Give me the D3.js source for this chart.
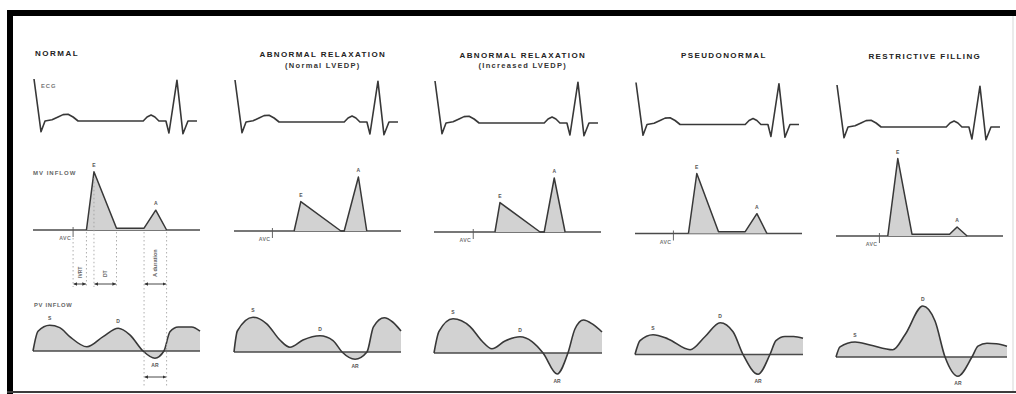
<!DOCTYPE html>
<html>
<head>
<meta charset="utf-8">
<script src="https://cdn.jsdelivr.net/npm/d3@7"></script>
<style>
  html, body { margin: 0; padding: 0; background: #fff; }
  svg { display: block; font-family: "Liberation Sans", Arial, sans-serif; }
</style>
</head>
<body>
<script>
// Diastolic filling patterns: ECG, mitral valve inflow and pulmonary vein inflow
// Time runs 0..100 across one cardiac cycle; velocities in m/s.

const titleLine1 = ["NORMAL", "ABNORMAL RELAXATION", "ABNORMAL RELAXATION", "PSEUDONORMAL", "RESTRICTIVE FILLING"];
const titleLine2 = ["", "(Normal LVEDP)", "(Increased LVEDP)", "", ""];
const rowLabels = ["ECG", "MV INFLOW", "PV INFLOW"];

// ECG trace (shared by every pattern): time and relative amplitude
const ecgTime = [0.6, 4.8, 7.2, 11.4, 15, 18, 21, 24, 27, 66, 68.3, 70.7, 73, 75.4, 79.6, 81.4, 86.2, 89.8, 92.8, 98.2];
const ecgAmp  = [1.05, -0.27, 0, 0.03, 0.1, 0.16, 0.17, 0.1, 0, 0, 0.1, 0.15, 0.1, 0, 0, -0.3, 1.02, -0.32, 0, 0];

// Mitral inflow: aortic valve closure, E and A wave timing and peak velocities
const avcTime  = [24, 23, 23.5, 23, 26];
const eStart   = [32, 36, 36.5, 32, 31];
const ePeakT   = [36.5, 40, 39.5, 37, 37];
const eEnd     = [50, 64, 63.5, 50, 45.5];
const aStart   = [66.5, 66, 66, 66, 68];
const aPeakT   = [73.5, 74.5, 72, 73, 72.5];
const aEnd     = [80, 79.5, 78.5, 79, 78.5];
const eVel     = [0.97, 0.49, 0.49, 1.0, 1.29];
const aVel     = [0.33, 0.9, 0.9, 0.33, 0.15];
const diastasisVel = [0.03, 0, 0, 0.03, 0.03];

// Pulmonary vein inflow: [time, velocity] (S, D forward; AR reversal)
const pvNormal = [[0,0],[3,0.33],[10,0.43],[16,0.39],[22,0.24],[32.3,0.07],[42,0.24],[51,0.38],[58,0.27],[65.9,0],[73,-0.12],[78.4,0],[82,0.32],[87,0.4],[95,0.4],[100,0.33]];
const pvRelaxNormal = [[0,0],[2,0.35],[11.4,0.58],[19.6,0.47],[27.5,0.2],[33.5,0.08],[41.3,0.2],[51.5,0.27],[59.3,0.19],[64.7,0],[72.5,-0.12],[79.6,0],[83.5,0.42],[90,0.57],[95,0.5],[100,0.35]];
const pvRelaxHigh = [[0,0],[3,0.36],[11.4,0.57],[21.6,0.44],[28.7,0.2],[34.7,0.07],[42.5,0.2],[51.5,0.27],[58.7,0.19],[65.3,0],[73.7,-0.35],[80.2,0],[84.4,0.4],[89.5,0.55],[95,0.48],[100.6,0.35]];
const pvPseudo = [[0,0],[3,0.23],[10.8,0.33],[19.8,0.26],[33,0.08],[42,0.3],[51,0.53],[58.7,0.38],[64.7,0],[73.7,-0.33],[80.8,0],[84.4,0.23],[89.8,0.3],[95,0.3],[100.6,0.27]];
const pvRestrictive = [[0,0],[2.4,0.17],[11.4,0.25],[20.4,0.2],[34,0.12],[41.3,0.37],[52,0.85],[59.3,0.6],[65.3,0],[73,-0.32],[81.4,0],[85,0.18],[90.4,0.23],[96,0.22],[102.4,0.18]];
const pvProfiles = [pvNormal, pvRelaxNormal, pvRelaxHigh, pvPseudo, pvRestrictive];

// ---- layout ----
const W = 1016, H = 394;
const colX = [33, 234, 434, 635, 836];
const colShift = [0, 1, 2, 3.5, 6];
const panelW = 167;
const lineColor = "#383838";
const fillColor = "#d2d2d2";
const baseColor = "#4a4a4a";

const svg = d3.select("body").append("svg").attr("width", W).attr("height", H);

// frame
svg.append("rect").attr("x", 7).attr("y", 10).attr("width", W - 7).attr("height", 6).attr("fill", "#000");
svg.append("rect").attr("x", 7).attr("y", 10).attr("width", 6).attr("height", H - 10).attr("fill", "#000");
svg.append("rect").attr("x", 7).attr("y", 391).attr("width", W - 7).attr("height", 2).attr("fill", "#3c3c3c");
svg.append("rect").attr("x", 1012.5).attr("y", 16).attr("width", 1).attr("height", 375).attr("fill", "#d8d8d8");

const tiny = (sel, size, weight, color) => sel
  .attr("font-size", size).attr("font-weight", weight).attr("fill", color);

// row labels (first column only)
tiny(svg.append("text").attr("x", 41).attr("y", 87.5).attr("letter-spacing", 1).text(rowLabels[0]), 5.8, "bold", "#777");
tiny(svg.append("text").attr("x", 33).attr("y", 175).attr("letter-spacing", 1).text(rowLabels[1]), 6, "bold", "#666");
tiny(svg.append("text").attr("x", 34).attr("y", 307).attr("letter-spacing", 0.7).text(rowLabels[2]), 5.8, "bold", "#666");

titleLine1.forEach((t, i) => {
  const s = colShift[i];
  const x = d3.scaleLinear().domain([0, 100]).range([colX[i], colX[i] + panelW]);
  const yE = d3.scaleLinear().domain([0, 1]).range([121 + s, 81 + s]);
  const yM = d3.scaleLinear().domain([0, 1]).range([230 + s, 170 + s]);
  const yP = d3.scaleLinear().domain([0, 1]).range([351 + s, 291 + s]);
  const g = svg.append("g");

  // titles
  if (i === 0) {
    tiny(g.append("text").attr("x", 35).attr("y", 56).attr("letter-spacing", 1.5).text(t), 8, "bold", "#222");
  } else {
    const cx = x(52) + 2;
    tiny(g.append("text").attr("x", cx).attr("y", 57 + s * 0.4).attr("text-anchor", "middle").attr("letter-spacing", 1.4).text(t), 8, "bold", "#222");
    if (titleLine2[i]) {
      tiny(g.append("text").attr("x", cx).attr("y", 68).attr("text-anchor", "middle").attr("letter-spacing", 1.3).text(titleLine2[i]), 7.5, "bold", "#333");
    }
  }

  // ECG
  const ecgPts = ecgTime.map((tt, k) => [tt, ecgAmp[k]]);
  g.append("path")
    .attr("d", d3.line().x(d => x(d[0])).y(d => yE(d[1]))(ecgPts))
    .attr("fill", "none").attr("stroke", lineColor).attr("stroke-width", 1.6)
    .attr("stroke-linejoin", "round");

  // mitral inflow
  g.append("line").attr("x1", x(0)).attr("x2", x(100)).attr("y1", yM(0)).attr("y2", yM(0))
    .attr("stroke", baseColor).attr("stroke-width", 1.4);
  const mv = [[eStart[i], 0], [ePeakT[i], eVel[i]], [eEnd[i], diastasisVel[i]],
              [aStart[i], diastasisVel[i]], [aPeakT[i], aVel[i]], [aEnd[i], 0]];
  g.append("path")
    .attr("d", d3.line().x(d => x(d[0])).y(d => yM(d[1]))(mv))
    .attr("fill", fillColor).attr("stroke", lineColor).attr("stroke-width", 1.5)
    .attr("stroke-linejoin", "round");
  tiny(g.append("text").attr("x", x(ePeakT[i])).attr("y", yM(eVel[i]) - 5).attr("text-anchor", "middle").text("E"), 5, "bold", "#555");
  tiny(g.append("text").attr("x", x(aPeakT[i])).attr("y", yM(aVel[i]) - 5).attr("text-anchor", "middle").text("A"), 5, "bold", "#555");

  // aortic valve closure marker
  g.append("line").attr("x1", x(avcTime[i])).attr("x2", x(avcTime[i]))
    .attr("y1", yM(0) - 3).attr("y2", yM(0) + 7).attr("stroke", "#555").attr("stroke-width", 0.9);
  tiny(g.append("text").attr("x", x(avcTime[i]) - 2).attr("y", yM(0) + 10).attr("text-anchor", "end").attr("letter-spacing", 0.4).text("AVC"), 5.2, "bold", "#777");

  // pulmonary vein inflow
  const pv = pvProfiles[i];
  g.append("path")
    .attr("d", d3.area().x(d => x(d[0])).y0(yP(0)).y1(d => yP(d[1])).curve(d3.curveMonotoneX)(pv))
    .attr("fill", fillColor);
  g.append("line").attr("x1", x(0)).attr("x2", x(pv[pv.length - 1][0])).attr("y1", yP(0)).attr("y2", yP(0))
    .attr("stroke", baseColor).attr("stroke-width", 1.4);
  g.append("path")
    .attr("d", d3.line().x(d => x(d[0])).y(d => yP(d[1])).curve(d3.curveMonotoneX)(pv))
    .attr("fill", "none").attr("stroke", lineColor).attr("stroke-width", 1.6);

  const sPk = d3.greatest(pv.filter(d => d[0] < 25), d => d[1]);
  const dPk = d3.greatest(pv.filter(d => d[0] > 30 && d[0] < 62), d => d[1]);
  const arPk = d3.least(pv, d => d[1]);
  tiny(g.append("text").attr("x", x(sPk[0])).attr("y", yP(sPk[1]) - 5).attr("text-anchor", "middle").text("S"), 5, "bold", "#555");
  tiny(g.append("text").attr("x", x(dPk[0])).attr("y", yP(dPk[1]) - 5).attr("text-anchor", "middle").text("D"), 5, "bold", "#555");
  tiny(g.append("text").attr("x", x(arPk[0])).attr("y", yP(arPk[1]) + 9).attr("text-anchor", "middle").text("AR"), 5, "bold", "#555");

  // interval measurements on the normal pattern
  if (i === 0) {
    const dots = (tt, y1, y2) => g.append("line").attr("x1", x(tt)).attr("x2", x(tt))
      .attr("y1", y1).attr("y2", y2).attr("stroke", "#9a9a9a").attr("stroke-width", 0.8)
      .attr("stroke-dasharray", "1.5,2.5");
    dots(avcTime[i], yM(0) + 8, 287);
    dots(eStart[i], yM(0) + 2, 287);
    dots(ePeakT[i], yM(eVel[i]) + 6, 287);
    dots(eEnd[i], yM(0) + 2, 287);
    dots(aStart[i], yM(0) + 2, 386);
    dots(aEnd[i], yM(0) + 2, 386);

    const defs = svg.append("defs");
    defs.append("marker").attr("id", "ah-e").attr("viewBox", "0 0 6 6")
      .attr("refX", 6).attr("refY", 3).attr("markerWidth", 4).attr("markerHeight", 4)
      .attr("orient", "auto-start-reverse")
      .append("path").attr("d", "M0,0 L6,3 L0,6 Z").attr("fill", "#333");
    const arrow = (t1, t2, y) => g.append("line").attr("x1", x(t1) + 0.5).attr("x2", x(t2) - 0.5)
      .attr("y1", y).attr("y2", y).attr("stroke", "#333").attr("stroke-width", 0.9)
      .attr("marker-start", "url(#ah-e)").attr("marker-end", "url(#ah-e)");
    arrow(avcTime[i], eStart[i], 284);
    arrow(ePeakT[i], eEnd[i], 284);
    arrow(aStart[i], aEnd[i], 284);
    arrow(aStart[i], aEnd[i], 377);

    const vtext = (tt, y, str, fs) => tiny(g.append("text")
      .attr("transform", `translate(${x(tt) + 2},${y}) rotate(-90)`).text(str), fs, "bold", "#666");
    vtext((avcTime[i] + eStart[i]) / 2, 278, "IVRT", 5);
    vtext((ePeakT[i] + eEnd[i]) / 2, 277, "DT", 5);
    vtext((aStart[i] + aEnd[i]) / 2, 277, "A duration", 5.6);
  }
});
</script>
</body>
</html>
